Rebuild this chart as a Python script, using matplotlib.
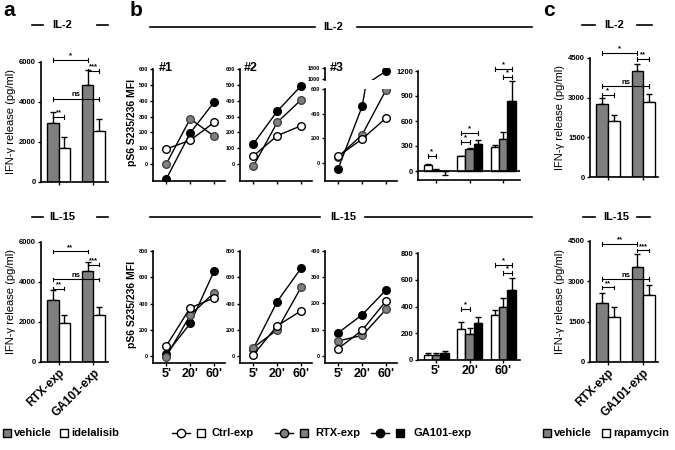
import matplotlib
matplotlib.use('Agg')
import matplotlib.pyplot as plt
from matplotlib.lines import Line2D
from matplotlib.patches import Rectangle
import numpy as np

plt.rcParams['font.family'] = ['Liberation Sans', 'DejaVu Sans']
plt.rcParams['font.weight'] = 'bold'
plt.rcParams['axes.linewidth'] = 1.2

GRAY = '#7f7f7f'
W, H = 675, 450

# ---------------- data ----------------
groups = ['RTX-exp', 'GA101-exp']
a_il2_vehicle = [2950, 4830]
a_il2_vehicle_err = [530, 790]
a_il2_idelalisib = [1680, 2560]
a_il2_idelalisib_err = [550, 590]
a_il15_vehicle = [3080, 4550]
a_il15_vehicle_err = [540, 430]
a_il15_idelalisib = [1970, 2330]
a_il15_idelalisib_err = [360, 420]

c_il2_vehicle = [2770, 4000]
c_il2_vehicle_err = [205, 290]
c_il2_rapamycin = [2130, 2840]
c_il2_rapamycin_err = [200, 300]
c_il15_vehicle = [2180, 3540]
c_il15_vehicle_err = [400, 490]
c_il15_rapamycin = [1665, 2490]
c_il15_rapamycin_err = [370, 370]

timepoints = ["5'", "20'", "60'"]
# IL-2 donors (#1, #2, #3)
il2_ctrl = [[95, 150, 263], [50, 179, 242], [55, 195, 365]]
il2_rtx = [[0, 286, 175], [-15, 263, 406], [50, 230, 595]]
il2_ga = [[-95, 196, 392], [126, 333, 495], [-45, 460, 1600]]
# IL-15 donors
il15_ctrl = [[76, 367, 443], [8, 230, 345], [28, 98, 210]]
il15_rtx = [[-5, 311, 483], [63, 200, 525], [57, 78, 178]]
il15_ga = [[15, 248, 648], [55, 415, 670], [88, 157, 252]]

# mean bars
il2_bar_ctrl = [75, 175, 285]
il2_bar_ctrl_err = [5, 6, 22]
il2_bar_rtx = [15, 265, 390]
il2_bar_rtx_err = [6, 10, 75]
il2_bar_ga = [-5, 330, 840]
il2_bar_ga_err = [45, 45, 245]
il15_bar_ctrl = [40, 235, 335]
il15_bar_ctrl_err = [12, 48, 42]
il15_bar_rtx = [38, 195, 395]
il15_bar_rtx_err = [12, 45, 70]
il15_bar_ga = [55, 275, 525]
il15_bar_ga_err = [10, 45, 85]

fig = plt.figure(figsize=(6.75, 4.5), dpi=100)


def ax_px(x0, x1, ytop, ybot):
    return fig.add_axes([x0 / W, 1 - ybot / H, (x1 - x0) / W, (ybot - ytop) / H])


def fx(x):
    return x / W


def fy(y):
    return 1 - y / H


def style(ax, fs=5):
    for s in ['top', 'right']:
        ax.spines[s].set_visible(False)
    ax.tick_params(axis='both', length=2.5, width=1, labelsize=fs, pad=1, direction='out')


def bracket(ax, x1, x2, y, txt, cap, fs=5.5):
    ax.plot([x1, x2], [y, y], color='black', lw=0.8, clip_on=False)
    ax.plot([x1, x1], [y - cap, y + cap], color='black', lw=0.8, clip_on=False)
    ax.plot([x2, x2], [y - cap, y + cap], color='black', lw=0.8, clip_on=False)
    ax.text((x1 + x2) / 2, y + cap * 0.3, txt, ha='center', va='bottom', fontsize=fs, clip_on=False)


def two_bar(ax, v1, e1, v2, e2, ymax, yticks, cap, brk, xlabels):
    x = np.arange(len(v1))
    w = 0.33
    ax.bar(x - w / 2, v1, w, color=GRAY, edgecolor='black', lw=1, zorder=2)
    ax.bar(x + w / 2, v2, w, color='white', edgecolor='black', lw=1, zorder=2)
    ax.errorbar(x - w / 2, v1, yerr=[np.zeros(len(v1)), e1], fmt='none', ecolor='black',
                elinewidth=1, capsize=2.5, capthick=1, zorder=1)
    ax.errorbar(x + w / 2, v2, yerr=[np.zeros(len(v2)), e2], fmt='none', ecolor='black',
                elinewidth=1, capsize=2.5, capthick=1, zorder=1)
    ax.set_xlim(-0.51, 1.42)
    ax.set_ylim(0, ymax)
    ax.set_yticks(yticks)
    ax.set_xticks(x)
    style(ax, 5.5)
    if xlabels:
        ax.set_xticklabels(groups, rotation=45, ha='right', rotation_mode='anchor', fontsize=8.5)
    else:
        ax.set_xticklabels([])
    g1, w1, g2, w2 = -w / 2, w / 2, 1 - w / 2, 1 + w / 2
    for (a, b, y, t) in [(g1, g2, brk[0][0], brk[0][1]), (g2, w2, brk[1][0], brk[1][1]),
                         (g1, w2, brk[2][0], brk[2][1]), (g1, w1, brk[3][0], brk[3][1])]:
        bracket(ax, a, b, y, t, cap)
    ax.set_ylabel('IFN-γ release (pg/ml)', fontsize=8, labelpad=2)


def lines3(ax, ctrl, rtx, ga, ylim, yticks, xlabels):
    x = np.arange(3)
    ax.plot(x, ga, '-o', color='black', mfc='black', mec='black', ms=5.5, lw=1, zorder=3, clip_on=True)
    ax.plot(x, rtx, '-o', color='black', mfc=GRAY, mec='#444444', ms=5.5, lw=1, zorder=4, clip_on=True)
    ax.plot(x, ctrl, '-o', color='black', mfc='white', mec='black', ms=5.5, lw=1, zorder=5, clip_on=True)
    ax.set_xlim(-0.55, 2.45)
    ax.set_ylim(*ylim)
    ax.set_yticks(yticks)
    ax.set_xticks(x)
    style(ax, 4)
    if xlabels:
        ax.set_xticklabels(timepoints, fontsize=9)
    else:
        ax.set_xticklabels([])


def bars3(ax, c, ce, r, re, g, ge, ylim, yticks, xlabels):
    x = np.arange(3)
    w = 0.25
    for off, v, e, col in [(-w, c, ce, 'white'), (0, r, re, GRAY), (w, g, ge, 'black')]:
        v = np.array(v, float)
        e = np.array(e, float)
        ax.bar(x + off, v, w, color=col, edgecolor='black', lw=1, zorder=2)
        up = np.where(v >= 0, e, 0)
        dn = np.where(v < 0, e, 0)
        ax.errorbar(x + off, v, yerr=[dn, up], fmt='none', ecolor='black', elinewidth=1,
                    capsize=2.2, capthick=1, zorder=1)
    ax.set_xlim(-0.54, 2.5)
    ax.set_ylim(*ylim)
    ax.set_yticks(yticks)
    ax.set_xticks(x)
    style(ax, 5.5)
    if xlabels:
        ax.set_xticklabels(timepoints, fontsize=9)
    else:
        ax.set_xticklabels([])


# ---------------- panel a ----------------
ax = ax_px(41, 108, 62, 182)
two_bar(ax, a_il2_vehicle, a_il2_vehicle_err, a_il2_idelalisib, a_il2_idelalisib_err,
        6000, [0, 2000, 4000, 6000], 90,
        [(6100, '*'), (5550, '***'), (4150, 'ns'), (3250, '**')], False)
ax = ax_px(41, 108, 242, 362)
two_bar(ax, a_il15_vehicle, a_il15_vehicle_err, a_il15_idelalisib, a_il15_idelalisib_err,
        6000, [0, 2000, 4000, 6000], 90,
        [(5530, '**'), (4870, '***'), (4130, 'ns'), (3670, '**')], True)

# ---------------- panel c ----------------
ax = ax_px(590, 658, 58, 177)
two_bar(ax, c_il2_vehicle, c_il2_vehicle_err, c_il2_rapamycin, c_il2_rapamycin_err,
        4500, [0, 1500, 3000, 4500], 70,
        [(4690, '*'), (4460, '**'), (3430, 'ns'), (3090, '*')], False)
ax = ax_px(590, 658, 241, 362)
two_bar(ax, c_il15_vehicle, c_il15_vehicle_err, c_il15_rapamycin, c_il15_rapamycin_err,
        4500, [0, 1500, 3000, 4500], 70,
        [(4400, '**'), (4150, '***'), (3080, 'ns'), (2775, '**')], True)

# ---------------- panel b: IL-2 lines ----------------
xs = [(153, 225), (240, 312), (325, 397)]
for i in range(2):
    ax = ax_px(xs[i][0], xs[i][1], 69, 181)
    lines3(ax, il2_ctrl[i], il2_rtx[i], il2_ga[i], (-107, 600), range(0, 700, 100), False)

# donor 3 with broken axis
axl = ax_px(325, 397, 89, 181)
lines3(axl, il2_ctrl[2], il2_rtx[2], il2_ga[2], (-146, 600), [0, 200, 400, 600], False)
axu = ax_px(325, 397, 68, 80)
x3 = np.arange(3)
axu.plot(x3, il2_ga[2], '-o', color='black', mfc='black', mec='black', ms=5.5, lw=1, clip_on=True)
axu.set_xlim(-0.55, 2.45)
axu.set_ylim(950, 1820)
axu.set_yticks([1000, 1800])
axu.set_xticks([])
style(axu, 4)
axu.spines['bottom'].set_visible(False)
axu.patch.set_alpha(0)

# ---------------- panel b: IL-15 lines ----------------
for i in range(2):
    ax = ax_px(xs[i][0], xs[i][1], 251, 363)
    lines3(ax, il15_ctrl[i], il15_rtx[i], il15_ga[i], (-53, 800), range(0, 900, 200), True)
ax = ax_px(xs[2][0], xs[2][1], 251, 363)
lines3(ax, il15_ctrl[2], il15_rtx[2], il15_ga[2], (-27, 400), range(0, 500, 100), True)

# donor labels
for lab, x in [('#1', 166), ('#2', 251), ('#3', 337)]:
    fig.text(fx(x), fy(68), lab, fontsize=9, ha='center', va='center')

# ---------------- panel b: bars ----------------
ax = ax_px(418, 520, 71, 180)
bars3(ax, il2_bar_ctrl, il2_bar_ctrl_err, il2_bar_rtx, il2_bar_rtx_err, il2_bar_ga, il2_bar_ga_err,
      (-108, 1200), [0, 300, 600, 900, 1200], False)
ax.axhline(0, color='black', lw=1.2, zorder=3)
cap = 25
bracket(ax, -0.25, 0.0, 180, '*', cap)
bracket(ax, 0.75, 1.0, 350, '*', cap)
bracket(ax, 0.75, 1.25, 460, '*', cap)
bracket(ax, 2.0, 2.25, 1130, '*', cap)
bracket(ax, 1.75, 2.25, 1225, '*', cap)

ax = ax_px(418, 520, 253, 360)
bars3(ax, il15_bar_ctrl, il15_bar_ctrl_err, il15_bar_rtx, il15_bar_rtx_err, il15_bar_ga, il15_bar_ga_err,
      (0, 800), [0, 200, 400, 600, 800], True)
cap = 16
bracket(ax, 0.75, 1.0, 380, '*', cap)
bracket(ax, 2.0, 2.25, 650, '*', cap)
bracket(ax, 1.75, 2.25, 710, '*', cap)

# y labels for panel b
fig.text(fx(132), fy(122), 'pS6 S235/236 MFI', rotation=90, fontsize=7.5, ha='center', va='center')
fig.text(fx(132), fy(305), 'pS6 S235/236 MFI', rotation=90, fontsize=7.5, ha='center', va='center')


# ---------------- headers ----------------
def hline(x0, x1, y):
    fig.add_artist(Line2D([fx(x0), fx(x1)], [fy(y), fy(y)], color='black', lw=1.2,
                          transform=fig.transFigure))


def header(l1, txt, tx, l2, y):
    hline(l1[0], l1[1], y)
    hline(l2[0], l2[1], y)
    fig.text(fx(tx), fy(y), txt, fontsize=8, ha='center', va='center')


header((32, 43), 'IL-2', 62, (97, 108), 25)
header((32, 43), 'IL-15', 62, (97, 108), 217)
header((582, 595), 'IL-2', 614, (637, 652), 25)
header((583, 595), 'IL-15', 616, (637, 650), 217)
header((150, 315), 'IL-2', 333, (357, 532), 27)
header((150, 320), 'IL-15', 343, (365, 532), 217)

fig.text(fx(9), fy(11), 'a', fontsize=15, ha='center', va='center')
fig.text(fx(136), fy(10), 'b', fontsize=15, ha='center', va='center')
fig.text(fx(549), fy(11), 'c', fontsize=15, ha='center', va='center')


# ---------------- legends ----------------
def sq(x, y, col, s=8):
    fig.add_artist(Rectangle((fx(x), fy(y + s / 2)), s / W, s / H, facecolor=col, edgecolor='black',
                             lw=1, transform=fig.transFigure))


def mk(x, y, col):
    fig.add_artist(Line2D([fx(x - 9), fx(x + 9)], [fy(y), fy(y)], color='black', lw=1,
                          transform=fig.transFigure))
    fig.add_artist(Line2D([fx(x)], [fy(y)], marker='o', ms=6, mfc=col, mec='black',
                          transform=fig.transFigure))


LY = 433
sq(3, LY, GRAY)
fig.text(fx(14), fy(LY), 'vehicle', fontsize=8, va='center')
sq(60, LY, 'white')
fig.text(fx(71), fy(LY), 'idelalisib', fontsize=8, va='center')

mk(181, LY, 'white')
sq(197, LY, 'white')
fig.text(fx(211), fy(LY), 'Ctrl-exp', fontsize=8, va='center')
mk(284, LY, GRAY)
sq(300, LY, GRAY)
fig.text(fx(315), fy(LY), 'RTX-exp', fontsize=8, va='center')
mk(380, LY, 'black')
sq(396, LY, 'black')
fig.text(fx(414), fy(LY), 'GA101-exp', fontsize=8, va='center')

sq(543, LY, GRAY)
fig.text(fx(554), fy(LY), 'vehicle', fontsize=8, va='center')
sq(602, LY, 'white')
fig.text(fx(613), fy(LY), 'rapamycin', fontsize=8, va='center')

fig.savefig('out.png', dpi=100)
